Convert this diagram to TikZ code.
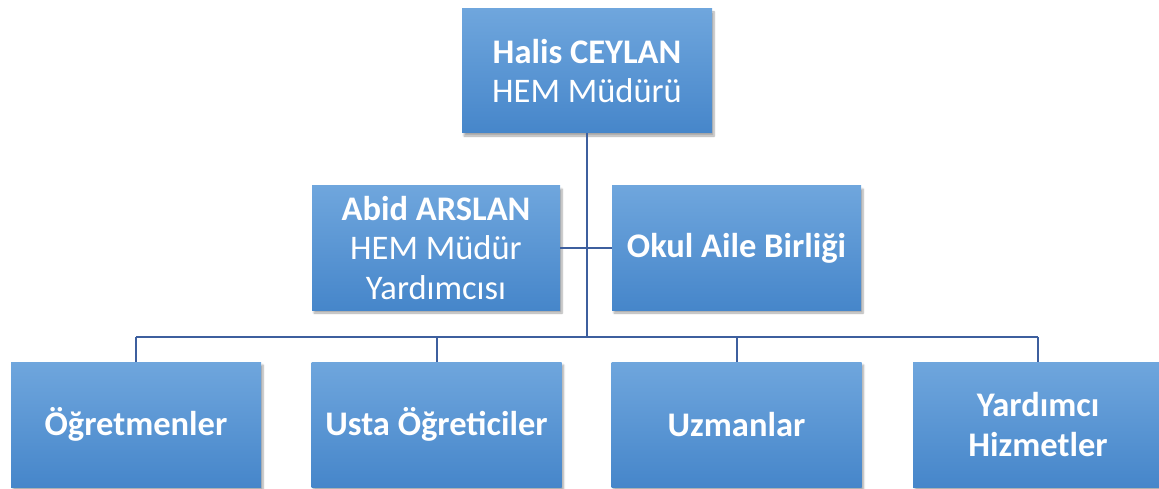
\documentclass[tikz,border=0pt]{standalone}
\usepackage{fontspec}
\setmainfont{Carlito}
\usetikzlibrary{shadows.blur}
\definecolor{boxtop}{HTML}{6FA6DD}
\definecolor{boxbot}{HTML}{4686CA}
\definecolor{linec}{HTML}{3D5F9E}
\tikzset{
  orgbox/.style={rectangle, minimum width=250pt, minimum height=124pt, inner sep=0pt,
    top color=boxtop, bottom color=boxbot, draw=none, text=white, align=center,
    font=\fontsize{34.5}{39.5}\selectfont,
    blur shadow={shadow xshift=2pt, shadow yshift=-3pt, shadow blur steps=6, shadow opacity=35}},
  conn/.style={draw=linec, line width=2pt}
}
\begin{document}
\begin{tikzpicture}[x=1pt,y=-1pt]
\useasboundingbox (0,0) rectangle (1159,489);
\coordinate (hub) at (587,337);
\coordinate (bl) at (136,337);
\coordinate (br) at (1038,337);
\node[orgbox] (top) at (587,71) {\textbf{Halis CEYLAN}\\HEM Müdürü};
\node[orgbox, minimum width=248pt] (abid) at (436,248) {\textbf{Abid ARSLAN}\\HEM Müdür\\Yardımcısı};
\node[orgbox, minimum width=249pt] (okul) at (736.5,248) {\textbf{Okul Aile Birliği}};
\node[orgbox, minimum height=125pt] (ogr) at (136,424.5) {\textbf{Öğretmenler}};
\node[orgbox, minimum height=125pt] (usta) at (436.5,424.5) {\textbf{Usta Öğreticiler}};
\node[orgbox, minimum height=125pt] (uzm) at (736.5,424.5) {\textbf{Uzmanlar}};
\node[orgbox, minimum height=125pt] (yrd) at (1038,424.5) {\textbf{Yardımcı}\\\textbf{Hizmetler}};
\draw[conn] (top.south) -- (hub);
\draw[conn] (abid.east) -- (okul.west);
\draw[conn] (bl) -- (br);
\draw[conn] (bl) -- (ogr.north);
\draw[conn] (usta.north |- hub) -- (usta.north);
\draw[conn] (uzm.north |- hub) -- (uzm.north);
\draw[conn] (br) -- (yrd.north);
\end{tikzpicture}
\end{document}
